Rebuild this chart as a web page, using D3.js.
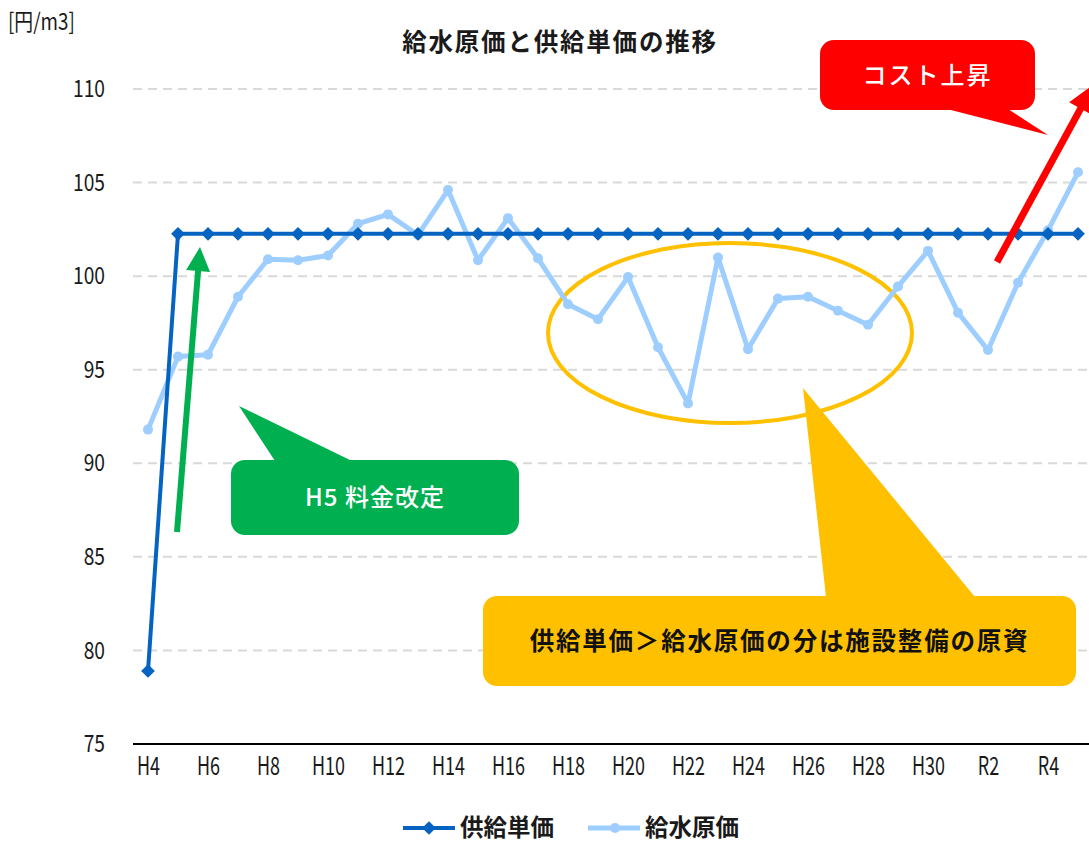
<!DOCTYPE html>
<html><head><meta charset="utf-8">
<script src="https://cdn.jsdelivr.net/npm/d3@7"></script>
<style>
body{margin:0;background:#fff;}
svg{display:block;font-family:"Noto Sans CJK JP","Noto Sans",sans-serif;}
</style></head>
<body><svg id="c" width="1089" height="843"></svg>
<script>
const categories = ["H4","H5","H6","H7","H8","H9","H10","H11","H12","H13","H14","H15","H16","H17","H18","H19","H20","H21","H22","H23","H24","H25","H26","H27","H28","H29","H30","R1","R2","R3","R4","R5"];
const supplyUnitPrice = [78.9,102.26,102.26,102.26,102.26,102.26,102.26,102.26,102.26,102.26,102.26,102.26,102.26,102.26,102.26,102.26,102.26,102.26,102.26,102.26,102.26,102.26,102.26,102.26,102.26,102.26,102.26,102.26,102.26,102.26,102.26,102.26];
const waterCost = [91.8,95.7,95.8,98.9,100.9,100.85,101.1,102.8,103.3,102.2,104.6,100.85,103.1,100.95,98.5,97.7,99.95,96.2,93.2,101.0,96.1,98.8,98.9,98.15,97.4,99.45,101.35,98.05,96.05,99.65,102.45,105.55];
const yTicks = [75,80,85,90,95,100,105,110];
const seriesNames = ["供給単価","給水原価"];

const svg = d3.select("#c");
const x = d3.scalePoint().domain(categories).range([148,1078]);
const y = d3.scaleLinear().domain([75,110]).range([744,89]);

// title & unit
svg.append("text").attr("x",560).attr("y",51).attr("text-anchor","middle")
  .attr("font-size",24.5).attr("font-weight","bold").attr("fill","#1a1a1a").attr("letter-spacing",1.8)
  .text("給水原価と供給単価の推移");
svg.append("text").attr("x",8).attr("y",30).attr("font-size",23).attr("fill","#1a1a1a")
  .attr("transform","translate(8,0) scale(0.82,1) translate(-8,0)")
  .text("[円/m3]");

// grid
svg.append("g").selectAll("line").data(yTicks.filter(d=>d>75)).join("line")
  .attr("x1",133).attr("x2",1089).attr("y1",d=>y(d)).attr("y2",d=>y(d))
  .attr("stroke","#d9d9d9").attr("stroke-width",2).attr("stroke-dasharray","9,6");

// y axis labels
const ya = svg.append("g").attr("transform","translate(133,0)")
  .call(d3.axisLeft(y).tickValues(yTicks).tickSize(0).tickPadding(28));
ya.select(".domain").remove();
ya.selectAll("text").attr("font-size",24).attr("fill","#1a1a1a").attr("font-family","'Noto Sans CJK JP',sans-serif")
  .attr("transform","translate(-28,0) scale(0.8,1) translate(28,0)");

// x axis
const xa = svg.append("g").attr("transform","translate(0,744)")
  .call(d3.axisBottom(x).tickValues(categories.filter((d,i)=>i%2===0)).tickSize(0).tickPadding(13));
xa.select(".domain").remove();
xa.selectAll("text").attr("font-size",25).attr("fill","#1a1a1a").attr("font-family","'Noto Sans CJK JP',sans-serif")
  .attr("transform","scale(0.72,1)");
svg.append("line").attr("x1",133).attr("x2",1089).attr("y1",y(75)).attr("y2",y(75))
  .attr("stroke","#000").attr("stroke-width",2);

// ellipse
svg.append("ellipse").attr("cx",730).attr("cy",333).attr("rx",182).attr("ry",90)
  .attr("fill","none").attr("stroke","#FFC000").attr("stroke-width",4);

// series
const line = d3.line().x((d,i)=>x(categories[i])).y(d=>y(d));
const cLight = "#9DCEFF", cDark = "#0563C1";
svg.append("path").datum(waterCost).attr("d",line).attr("fill","none")
  .attr("stroke",cLight).attr("stroke-width",5).attr("stroke-linejoin","round");
svg.append("g").selectAll("circle").data(waterCost).join("circle")
  .attr("cx",(d,i)=>x(categories[i])).attr("cy",d=>y(d)).attr("r",5).attr("fill",cLight);
svg.append("path").datum(supplyUnitPrice).attr("d",line).attr("fill","none")
  .attr("stroke",cDark).attr("stroke-width",4);
const diamond = d3.symbol().type(d3.symbolDiamond2).size(120);
svg.append("g").selectAll("path").data(supplyUnitPrice).join("path")
  .attr("d",diamond).attr("transform",(d,i)=>`translate(${x(categories[i])},${y(d)})`).attr("fill",cDark);

// arrow helper
function arrow(x1,y1,x2,y2,color,w,hw,hl){
  const a = Math.atan2(y2-y1,x2-x1), ux=Math.cos(a), uy=Math.sin(a), px=-uy, py=ux;
  const bx = x2-ux*hl, by = y2-uy*hl;
  svg.append("line").attr("x1",x1).attr("y1",y1).attr("x2",bx+ux*2).attr("y2",by+uy*2)
    .attr("stroke",color).attr("stroke-width",w);
  svg.append("path").attr("d",`M${x2},${y2}L${bx+px*hw},${by+py*hw}L${bx-px*hw},${by-py*hw}Z`).attr("fill",color);
}
function callout(rx,ry,rw,rh,pts,color,txt,tcolor,fs,ls,fw){
  svg.append("rect").attr("x",rx).attr("y",ry).attr("width",rw).attr("height",rh).attr("rx",14).attr("fill",color);
  svg.append("path").attr("d","M"+pts.map(p=>p.join(",")).join("L")+"Z").attr("fill",color);
  svg.append("text").attr("x",rx+rw/2).attr("y",ry+rh/2).attr("dy","0.36em").attr("text-anchor","middle")
    .attr("font-size",fs).attr("font-weight",fw).attr("fill",tcolor).attr("letter-spacing",ls).text(txt);
}

// green
arrow(177,532,200,247,"#00B050",6,12,24);
callout(231,460,288,75,[[239,406],[275,461],[352,461]],"#00B050","H5  料金改定","#fff",24,1,500);
// red
arrow(997,262,1094,84,"#FF0000",7,13,28);
callout(820,40,215,70,[[947,109],[1048,135],[1008,109]],"#FF0000","コスト上昇","#fff",24,2,500);
// yellow
callout(483,596,593,90,[[803,388],[826,597],[975,597]],"#FFC000","供給単価＞給水原価の分は施設整備の原資","#111",24.5,1.8,"bold");

// legend
const lg = svg.append("g");
lg.append("line").attr("x1",403).attr("x2",455).attr("y1",828).attr("y2",828).attr("stroke",cDark).attr("stroke-width",4);
lg.append("path").attr("d",diamond).attr("transform","translate(429,828)").attr("fill",cDark);
lg.append("text").attr("x",460).attr("y",828).attr("dy","0.36em").attr("font-size",23.5).attr("font-weight","bold").attr("fill","#1a1a1a").text(seriesNames[0]);
lg.append("line").attr("x1",588).attr("x2",640).attr("y1",828).attr("y2",828).attr("stroke",cLight).attr("stroke-width",5);
lg.append("circle").attr("cx",615).attr("cy",828).attr("r",5).attr("fill",cLight);
lg.append("text").attr("x",645).attr("y",828).attr("dy","0.36em").attr("font-size",23.5).attr("font-weight","bold").attr("fill","#1a1a1a").text(seriesNames[1]);
</script></body></html>
